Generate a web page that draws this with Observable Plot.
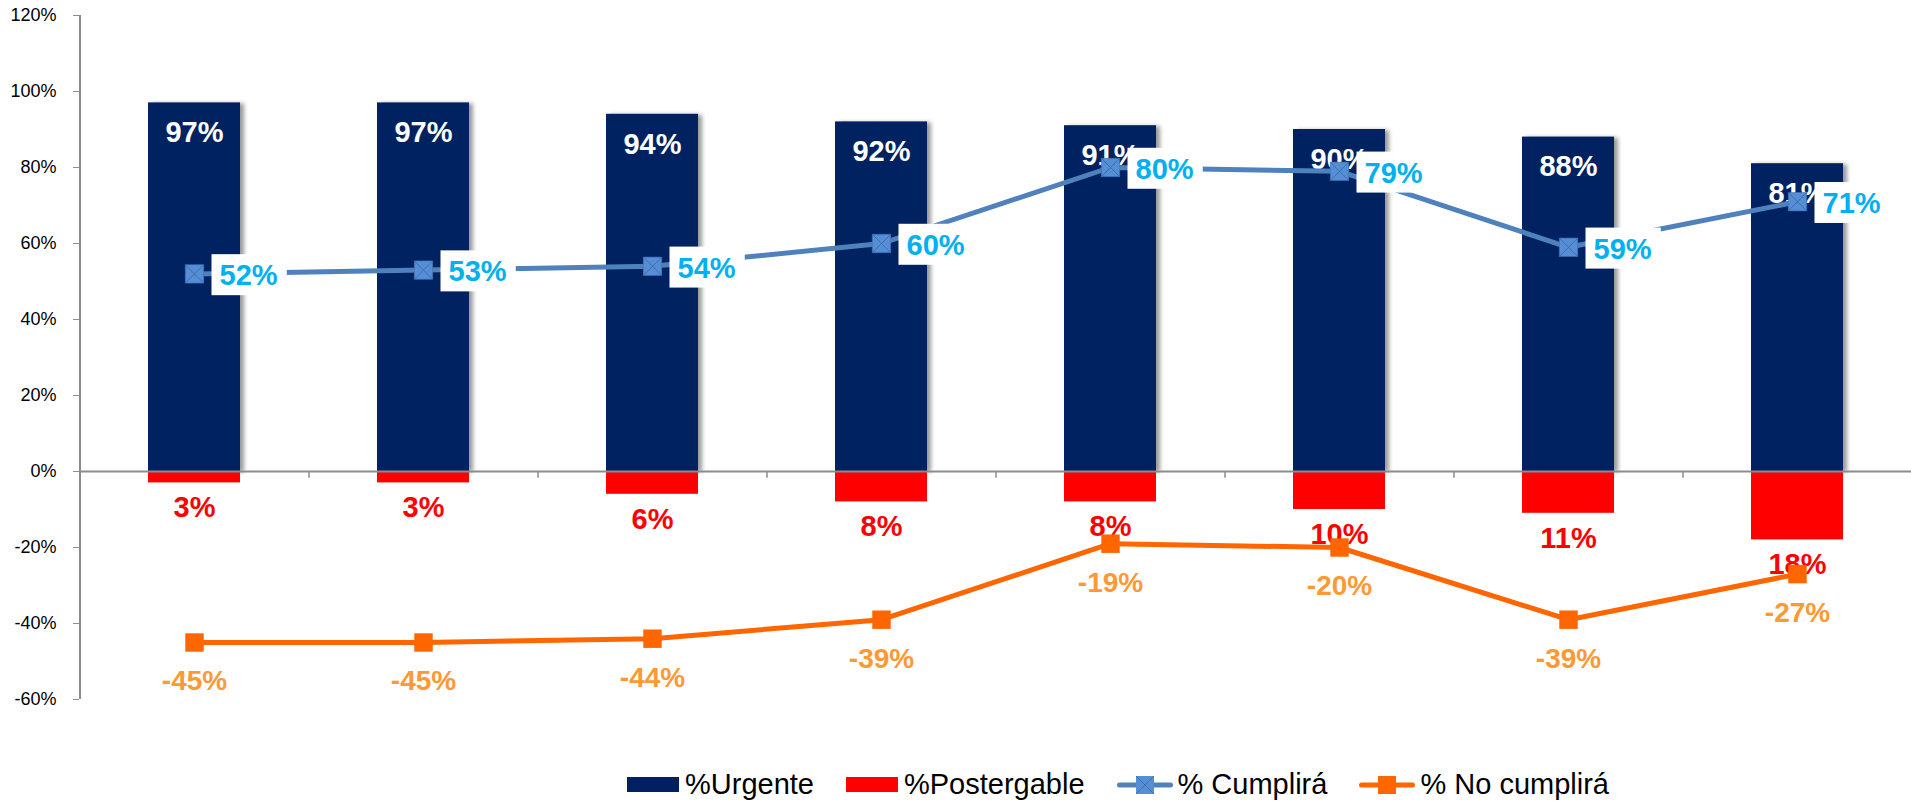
<!DOCTYPE html>
<html><head><meta charset="utf-8">
<script src="https://cdn.jsdelivr.net/npm/d3@7"></script>
<script src="https://cdn.jsdelivr.net/npm/@observablehq/plot@0.6"></script>
<style>
body{margin:0;background:#fff;font-family:"Liberation Sans",Arial,sans-serif;}
#chart{position:relative;width:1911px;height:802px;overflow:hidden;}
#chart svg{display:block;}
#legend{position:absolute;left:627px;top:770px;height:29px;display:flex;align-items:center;font-size:29px;line-height:29px;color:#000;white-space:nowrap;}
.item{display:flex;align-items:center;margin-right:32px;}
.sw{width:52px;height:15px;margin-right:6px;}
.ln{margin-right:5px;display:block;}
</style></head><body><div id="chart"><div id="legend"></div></div>
<script>
const periods = ["P1","P2","P3","P4","P5","P6","P7","P8"];
const urgente = [97,97,94,92,91,90,88,81];
const postergable = [3,3,6,8,8,10,11,18];
const cumplira = [52,53,54,60,80,79,59,71];
const noCumplira = [-45,-45,-44,-39,-19,-20,-39,-27];
const yTicks = [-60,-40,-20,0,20,40,60,80,100,120];
const seriesNames = ["%Urgente","%Postergable","% Cumplirá","% No cumplirá"];

const C = {urgente:"#002060", postergable:"#FF0000", cumplira:"#4F81BD", cumpliraMarker:"#558ED5",
  cumpliraX:"#3F6FB3", cumpliraLabel:"#00B0F0", noCumplira:"#FF6600", noCumpliraLabel:"#FF9933", axis:"#8C8C8C"};
const FONT = '"Liberation Sans", Arial, sans-serif';

const rows = periods.map((p,i)=>({p, u:urgente[i], pg:-postergable[i], pgv:postergable[i], c:cumplira[i], n:noCumplira[i]}));
const W = 1911, H = 745, ML = 79;
const step = (W - ML) / periods.length;

const plot = Plot.plot({
  width: W, height: H, marginLeft: ML, marginRight: 0, marginTop: 15, marginBottom: H - 699,
  style: {fontFamily: FONT, fontSize: "18px", color: "#000", background: "#fff", overflow: "visible"},
  x: {domain: periods, paddingInner: 0.6, paddingOuter: 0.3, axis: null},
  y: {domain: [-60, 120], label: null, axis: null},
  marks: [
    Plot.barY(rows, {x: "p", y: "u", fill: C.urgente, className: "urgente-bars"}),
    Plot.barY(rows, {x: "p", y: "pg", fill: C.postergable}),
    Plot.ruleY([0], {stroke: C.axis, strokeWidth: 2}),
    Plot.ruleX(periods.slice(1), {x: d => d, y1: 0, y2: -1.8, dx: -step/2, stroke: C.axis, strokeWidth: 1.5}),
    Plot.ruleX([periods[0]], {x: d => d, y1: -60, y2: 120, dx: -step/2, stroke: C.axis, strokeWidth: 2}),
    Plot.axisY({ticks: yTicks, tickSize: 6, tickPadding: 17, tickFormat: d => d + "%", stroke: C.axis, fill: "#000", label: null, fontSize: 18}),
    Plot.text(rows, {x: "p", y: "u", text: d => d.u + "%", dy: 30, fill: "#fff", fontWeight: "bold", fontSize: 29}),
    Plot.text(rows, {x: "p", y: "pg", text: d => d.pgv + "%", dy: 25, fill: C.postergable, fontWeight: "bold", fontSize: 29}),
    Plot.line(rows, {x: "p", y: "c", stroke: C.cumplira, strokeWidth: 5}),
    Plot.dot(rows, {x: "p", y: "c", symbol: "square", r: 10.4, fill: C.cumpliraMarker, stroke: C.cumpliraX, strokeWidth: 0.6}),
    Plot.dot(rows, {x: "p", y: "c", symbol: "times", r: 8.3, stroke: C.cumpliraX, strokeWidth: 1}),
    Plot.line(rows, {x: "p", y: "n", stroke: C.noCumplira, strokeWidth: 5}),
    Plot.dot(rows, {x: "p", y: "n", symbol: "square", r: 10.4, fill: C.noCumplira}),
    Plot.text(rows, {x: "p", y: "n", text: d => d.n + "%", dy: 39, fill: C.noCumpliraLabel, fontWeight: "bold", fontSize: 28}),
    Plot.text(rows, {x: "p", y: "c", text: d => d.c + "%", dx: 25, dy: 2, textAnchor: "start", fill: C.cumpliraLabel, fontWeight: "bold", fontSize: 29, className: "cumplira-labels"})
  ]
});
const chart = document.getElementById("chart");
chart.insertBefore(plot, chart.firstChild);
const svg = plot.tagName.toLowerCase() === "svg" ? plot : plot.querySelector("svg");

// locate mark groups
const textGroups = Array.from(svg.querySelectorAll('g[aria-label="text"]'));
const labelGroup = svg.querySelector("g.cumplira-labels") || textGroups[textGroups.length - 1];
const barGroups = Array.from(svg.querySelectorAll('g[aria-label="bar"]'));
const urgGroup = svg.querySelector("g.urgente-bars") || barGroups[0];
if (urgGroup) urgGroup.setAttribute("filter", "url(#barShadow)");

// shadow filter
const NS = "http://www.w3.org/2000/svg";
const defs = document.createElementNS(NS, "defs");
defs.innerHTML = '<filter id="barShadow" x="-20%" y="-5%" width="150%" height="115%">' +
  '<feGaussianBlur in="SourceAlpha" stdDeviation="2"/>' +
  '<feOffset dx="4" dy="1" result="ob"/>' +
  '<feComponentTransfer><feFuncA type="linear" slope="0.4"/></feComponentTransfer>' +
  '<feMerge><feMergeNode/><feMergeNode in="SourceGraphic"/></feMerge></filter>';
svg.insertBefore(defs, svg.firstChild);

// white boxes behind the Cumplirá labels
if (labelGroup) {
  Array.from(labelGroup.querySelectorAll("text")).forEach(t => {
    const b = t.getBBox();
    const cy = b.y + b.height / 2;
    const r = document.createElementNS(NS, "rect");
    r.setAttribute("x", b.x - 8);
    r.setAttribute("y", cy - 21);
    r.setAttribute("width", b.width + 17);
    r.setAttribute("height", 41);
    r.setAttribute("fill", "#ffffff");
    r.setAttribute("stroke", "none");
    const tr = t.getAttribute("transform");
    if (tr) r.setAttribute("transform", tr);
    t.parentNode.insertBefore(r, t);
  });
}

// legend
const legend = d3.select("#legend");
function lineSwatch(color, markerFill, cross) {
  const s = d3.create("svg").attr("class", "ln").attr("width", 56).attr("height", 20);
  s.append("line").attr("x1", 2.5).attr("x2", 53.5).attr("y1", 10).attr("y2", 10)
    .attr("stroke", color).attr("stroke-width", 5).attr("stroke-linecap", "round");
  s.append("rect").attr("x", 19).attr("y", 1).attr("width", 18).attr("height", 18).attr("fill", markerFill);
  if (cross) s.append("path").attr("d", "M19,1L37,19M37,1L19,19").attr("stroke", C.cumpliraX).attr("stroke-width", 1);
  return s.node();
}
const items = [
  {name: seriesNames[0], kind: "bar", color: C.urgente},
  {name: seriesNames[1], kind: "bar", color: C.postergable},
  {name: seriesNames[2], kind: "line", color: C.cumplira, marker: C.cumpliraMarker, cross: true},
  {name: seriesNames[3], kind: "line", color: C.noCumplira, marker: C.noCumplira, cross: false}
];
items.forEach(it => {
  const d = legend.append("div").attr("class", "item");
  if (it.kind === "bar") d.append("div").attr("class", "sw").style("background", it.color);
  else d.node().appendChild(lineSwatch(it.color, it.marker, it.cross));
  d.append("span").text(it.name);
});
</script></body></html>
